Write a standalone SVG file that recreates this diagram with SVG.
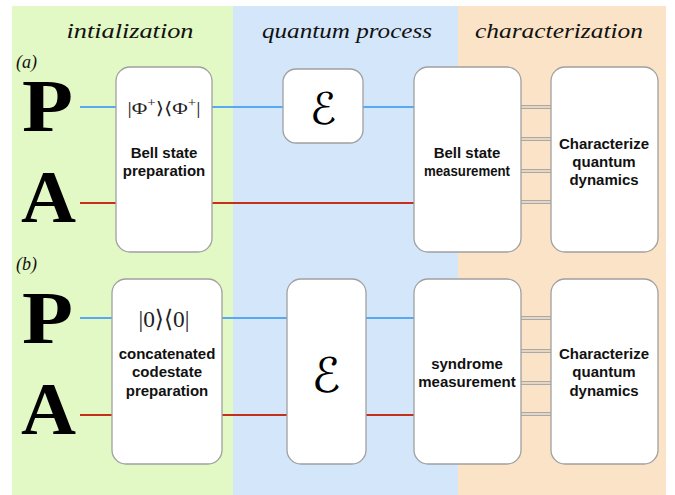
<svg xmlns="http://www.w3.org/2000/svg" width="675" height="495" viewBox="0 0 675 495">
<style>
.box{fill:#fff;stroke:#a0a0a0;stroke-width:1.3}
.lbl{font-family:"Liberation Sans",Arial,sans-serif;font-weight:bold;font-size:15px;text-anchor:middle;fill:#111}
.hdr{font-family:"Liberation Serif","DejaVu Serif",serif;font-style:italic;font-size:20px;text-anchor:middle;fill:#111}
.big{font-family:"Liberation Serif","DejaVu Serif",serif;font-weight:bold;font-size:75px;fill:#000}
.math{font-family:"Liberation Serif","DejaVu Serif",serif;fill:#222;text-anchor:middle}
.scr{font-family:"DejaVu Serif","DejaVu Sans",serif;font-style:italic;text-anchor:middle;fill:#000}
.q1{stroke:#58a8f2;stroke-width:2;fill:none}
.q2{stroke:#c4311b;stroke-width:2;fill:none}
.dbo{stroke:#a9a9a9;stroke-width:4;fill:none}
.dbi{stroke:#fae3c6;stroke-width:1.6;fill:none}
</style>
<g id="background">
<rect x="12" y="6" width="221" height="489" fill="#e2f8c5"/>
<rect x="233" y="6" width="225" height="489" fill="#d4e6fa"/>
<rect x="458" y="6" width="208" height="489" fill="#fae3c6"/>
<text class="hdr" x="130" y="38" textLength="127" lengthAdjust="spacingAndGlyphs">intialization</text>
<text class="hdr" x="347" y="38" textLength="170" lengthAdjust="spacingAndGlyphs">quantum process</text>
<text class="hdr" x="559" y="38" textLength="168" lengthAdjust="spacingAndGlyphs">characterization</text>
</g>
<g id="labels">
<text class="hdr" x="16" y="68" style="text-anchor:start;font-size:18px">(a)</text>
<text class="big" x="22" y="131" textLength="51" lengthAdjust="spacingAndGlyphs">P</text>
<text class="big" x="21" y="222" textLength="55" lengthAdjust="spacingAndGlyphs">A</text>
<text class="hdr" x="16" y="270" style="text-anchor:start;font-size:18px">(b)</text>
<text class="big" x="22" y="343" textLength="51" lengthAdjust="spacingAndGlyphs">P</text>
<text class="big" x="21" y="434" textLength="55" lengthAdjust="spacingAndGlyphs">A</text>
</g>
<g id="connectors">
<line class="q1" x1="80" y1="107" x2="116" y2="107"/>
<line class="q1" x1="212" y1="107" x2="283" y2="107"/>
<line class="q1" x1="363" y1="107" x2="414" y2="107"/>
<line class="q2" x1="80" y1="203" x2="116" y2="203"/>
<line class="q2" x1="212" y1="203" x2="414" y2="203"/>
<line class="q1" x1="80" y1="318" x2="112" y2="318"/>
<line class="q1" x1="222" y1="318" x2="287" y2="318"/>
<line class="q1" x1="366" y1="318" x2="414" y2="318"/>
<line class="q2" x1="80" y1="415" x2="112" y2="415"/>
<line class="q2" x1="222" y1="415" x2="287" y2="415"/>
<line class="q2" x1="366" y1="415" x2="414" y2="415"/>
<g id="classical">
<path class="dbo" d="M521 107H551M521 139H551M521 171H551M521 202H551M521 318H551M521 351H551M521 383H551M521 414H551"/>
<path class="dbi" d="M521 107H551M521 139H551M521 171H551M521 202H551M521 318H551M521 351H551M521 383H551M521 414H551"/>
</g>
</g>
<g id="prep-a">
<rect class="box" x="116" y="67" width="96" height="185" rx="14"/>
<text class="math" x="164" y="114" font-size="17" textLength="73" lengthAdjust="spacingAndGlyphs">|Φ<tspan font-size="12" dy="-7">+</tspan><tspan dy="7">⟩⟨Φ</tspan><tspan font-size="12" dy="-7">+</tspan><tspan dy="7">|</tspan></text>
<text class="lbl" x="164" y="158">Bell state</text>
<text class="lbl" x="164" y="176">preparation</text>
</g>
<g id="channel-a">
<rect class="box" x="283" y="69" width="80" height="74" rx="13"/>
<text class="scr" x="323" y="124" font-size="44">ℰ</text>
</g>
<g id="meas-a">
<rect class="box" x="414" y="67" width="107" height="185" rx="14"/>
<text class="lbl" x="467" y="158">Bell state</text>
<text class="lbl" x="467" y="176" textLength="86" lengthAdjust="spacingAndGlyphs">measurement</text>
</g>
<g id="char-a">
<rect class="box" x="551" y="67" width="107" height="185" rx="14"/>
<text class="lbl" x="604" y="149">Characterize</text>
<text class="lbl" x="604" y="167">quantum</text>
<text class="lbl" x="604" y="185">dynamics</text>
</g>
<g id="prep-b">
<rect class="box" x="112" y="279" width="110" height="185" rx="14"/>
<text class="math" x="164" y="327" font-size="24" textLength="51" lengthAdjust="spacingAndGlyphs">|0⟩⟨0|</text>
<text class="lbl" x="167" y="359">concatenated</text>
<text class="lbl" x="167" y="377">codestate</text>
<text class="lbl" x="167" y="396">preparation</text>
</g>
<g id="channel-b">
<rect class="box" x="287" y="279" width="79" height="185" rx="14"/>
<text class="scr" x="326" y="392" font-size="48">ℰ</text>
</g>
<g id="meas-b">
<rect class="box" x="414" y="279" width="107" height="185" rx="14"/>
<text class="lbl" x="467" y="369">syndrome</text>
<text class="lbl" x="467" y="387">measurement</text>
</g>
<g id="char-b">
<rect class="box" x="551" y="279" width="107" height="185" rx="14"/>
<text class="lbl" x="604" y="359">Characterize</text>
<text class="lbl" x="604" y="377">quantum</text>
<text class="lbl" x="604" y="396">dynamics</text>
</g>
</svg>
